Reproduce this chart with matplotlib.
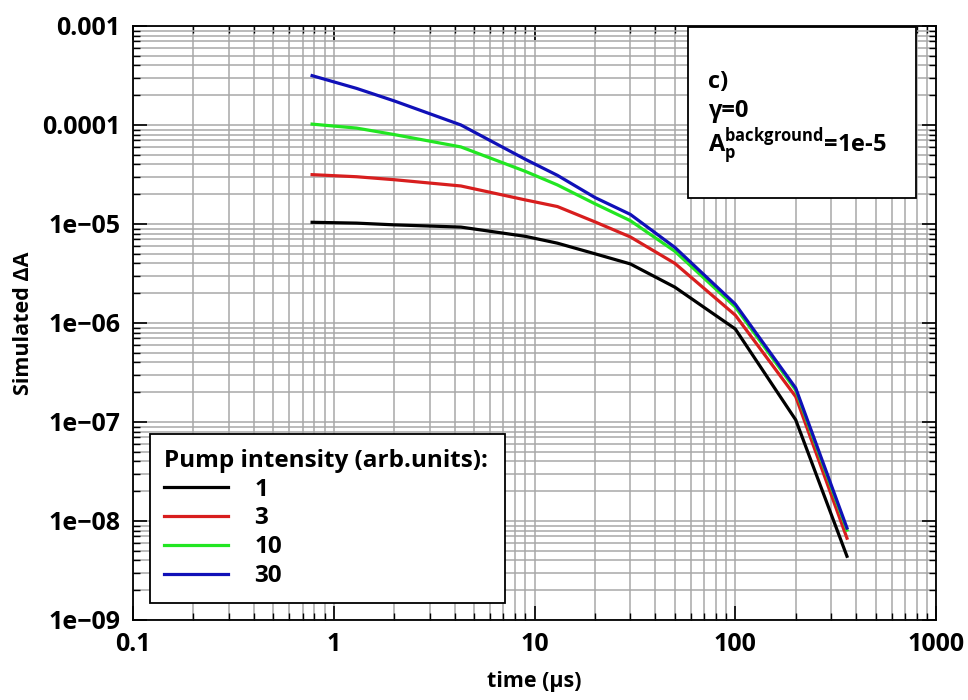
import numpy as np
import matplotlib
matplotlib.use('Agg')
import matplotlib.pyplot as plt
from matplotlib.patches import Rectangle

plt.rcParams['font.family'] = ['Open Sans', 'DejaVu Sans']
plt.rcParams['font.weight'] = 'bold'
plt.rcParams['mathtext.fontset'] = 'custom'
plt.rcParams['mathtext.rm'] = 'Open Sans:bold'
plt.rcParams['mathtext.it'] = 'Open Sans:bold'
plt.rcParams['mathtext.bf'] = 'Open Sans:bold'
plt.rcParams['mathtext.default'] = 'rm'

# time points (us) and simulated dA
t = [0.78, 1.3, 2.0, 4.3, 9.0, 13, 20, 30, 50, 100, 200, 360]
dA_1 = [1.04e-5, 1.02e-5, 9.8e-6, 9.3e-6, 7.5e-6, 6.4e-6, 5.0e-6, 3.95e-6, 2.3e-6, 8.7e-7, 1.05e-7, 4.4e-9]
dA_3 = [3.15e-5, 3.0e-5, 2.8e-5, 2.42e-5, 1.75e-5, 1.5e-5, 1.05e-5, 7.4e-6, 4.0e-6, 1.2e-6, 1.8e-7, 6.7e-9]
dA_10 = [1.02e-4, 9.3e-5, 8.0e-5, 6.0e-5, 3.4e-5, 2.48e-5, 1.6e-5, 1.08e-5, 5.3e-6, 1.45e-6, 2.1e-7, 8.1e-9]
dA_30 = [3.15e-4, 2.34e-4, 1.75e-4, 1.0e-4, 4.5e-5, 3.1e-5, 1.85e-5, 1.25e-5, 5.8e-6, 1.55e-6, 2.2e-7, 8.5e-9]

labels = ['1', '3', '10', '30']
colors = ['#000000', '#d81e1e', '#22e622', '#1010b8']
series = [dA_1, dA_3, dA_10, dA_30]

xticks = [0.1, 1, 10, 100, 1000]
xticklabels = ['0.1', '1', '10', '100', '1000']
yticks = [1e-9, 1e-8, 1e-7, 1e-6, 1e-5, 1e-4, 1e-3]
yticklabels = ['1e\u221209', '1e\u221208', '1e\u221207', '1e\u221206', '1e\u221205', '0.0001', '0.001']

fig = plt.figure(figsize=(9.68, 7), dpi=100)
ax = fig.add_axes([0.1374, 0.1143, 0.8296, 0.8486])

for y, lab, c in zip(series, labels, colors):
    ax.plot(t, y, color=c, lw=2.3, label=lab)

ax.set_xscale('log')
ax.set_yscale('log')
ax.set_xlim(0.1, 1000)
ax.set_ylim(1e-9, 1e-3)
ax.set_xticks(xticks, xticklabels)
ax.set_yticks(yticks, yticklabels)

ax.grid(True, which='both', color='#a8a8a8', lw=1.1)
ax.tick_params(which='both', direction='in', top=True, right=True, labelsize=18, pad=9)
ax.tick_params(which='major', length=10, width=1.2)
ax.tick_params(which='minor', length=5, width=1.0)
for s in ax.spines.values():
    s.set_linewidth(1.3)

ax.set_xlabel('time (\u00b5s)', fontsize=15.5, fontweight='bold', labelpad=10)
ax.set_ylabel('Simulated \u0394A', fontsize=15.5, fontweight='bold', labelpad=6)

leg = ax.legend(title='Pump intensity (arb.units):', loc='lower left',
                bbox_to_anchor=(0.021, 0.029, 0.442, 0.29), mode='expand',
                fontsize=17.5, title_fontsize=17.5, frameon=True, fancybox=False,
                edgecolor='black', framealpha=1, handlelength=2.6,
                handletextpad=1.1, labelspacing=0.2, borderpad=0.6,
                borderaxespad=0)
leg._legend_box.align = 'left'
leg.get_frame().set_linewidth(1.3)
leg.get_title().set_fontweight('bold')

ax.add_patch(Rectangle((0.691, 0.710), 0.284, 0.288, transform=ax.transAxes,
                       facecolor='white', edgecolor='black', lw=1.3, zorder=5))
ax.text(0.716, 0.906, 'c)', transform=ax.transAxes, fontsize=17, va='center', zorder=6)
ax.text(0.716, 0.857, '\u03b3=0', transform=ax.transAxes, fontsize=17, va='center', zorder=6)
ax.text(0.716, 0.797, r'A$_{\mathrm{p}}^{\mathrm{background}}$=1e-5', transform=ax.transAxes,
        fontsize=17, va='center', zorder=6)

fig.savefig('out.png', dpi=100)
